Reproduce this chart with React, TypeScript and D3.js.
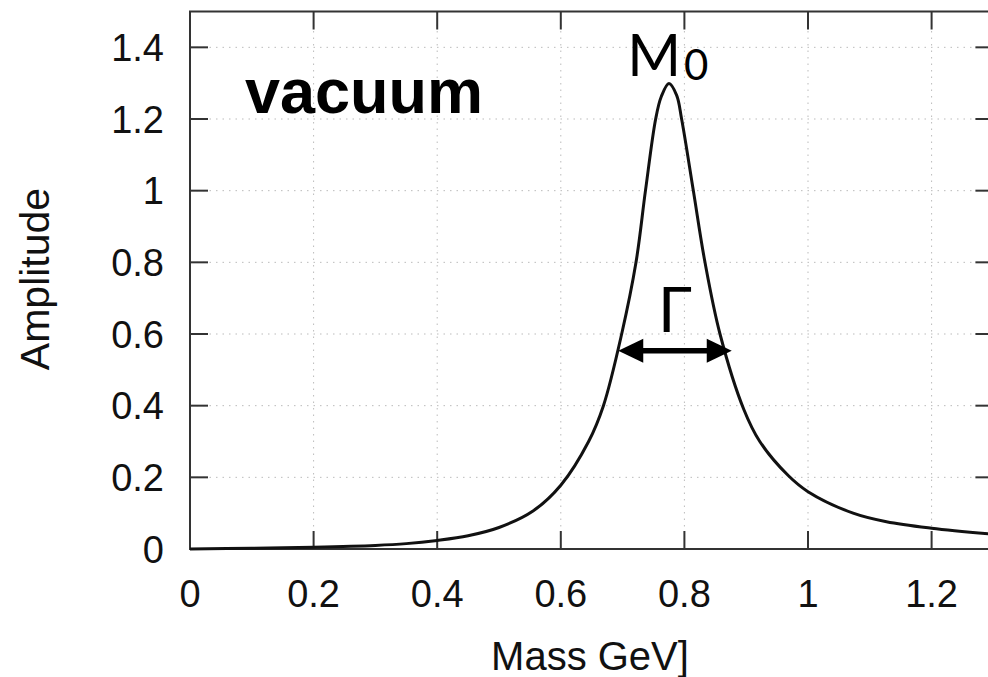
import React from "react";
import * as d3 from "d3";

// Curve (Mass in GeV, Amplitude)
const massValues = [0, 0.1, 0.2, 0.3, 0.35, 0.4, 0.45, 0.5, 0.555, 0.6, 0.645, 0.669, 0.6985, 0.7217, 0.737, 0.7535, 0.7625, 0.775, 0.7875, 0.7955, 0.8145, 0.8333, 0.8576, 0.896, 0.922, 0.968, 1.0, 1.073, 1.127, 1.2, 1.3];
const amplitudeValues = [0, 0.002, 0.005, 0.01, 0.015, 0.024, 0.037, 0.06, 0.106, 0.178, 0.3, 0.4, 0.6, 0.8, 1.0, 1.2, 1.262, 1.299, 1.266, 1.2, 1.0, 0.8, 0.6, 0.39, 0.3, 0.205, 0.16, 0.1, 0.076, 0.058, 0.041];

const xTicks = [0, 0.2, 0.4, 0.6, 0.8, 1, 1.2];
const yTicks = [0, 0.2, 0.4, 0.6, 0.8, 1, 1.2, 1.4];
const xDomain = [0, 1.3];
const yDomain = [0, 1.5];

// Annotations
const peakMass = 0.775;
const widthArrow = { left: 0.693, right: 0.8766, level: 0.553 };
const title = "vacuum";
const xLabel = "Mass GeV]";
const yLabel = "Amplitude";

const W = 988;
const H = 677;
const left = 190;
const right = 993.4;
const top = 11.5;
const bottom = 549;

export default function App() {
  const x = d3.scaleLinear().domain(xDomain).range([left, right]);
  const y = d3.scaleLinear().domain(yDomain).range([bottom, top]);
  const pts = massValues.map((m, i) => [m, amplitudeValues[i]] as [number, number]);
  const line = d3
    .line<[number, number]>()
    .x((d) => x(d[0]))
    .y((d) => y(d[1]))
    .curve(d3.curveCatmullRom.alpha(0.5));
  const tickLen = 18;
  const frame = "#333";
  const font = "'Liberation Sans', Arial, Helvetica, sans-serif";
  const symFont = "Lato, 'Open Sans', sans-serif";

  const ay = y(widthArrow.level);
  const ax1 = x(widthArrow.left);
  const ax2 = x(widthArrow.right);
  const headL = 25;
  const headW = 12;

  return (
    <svg
      width={W}
      height={H}
      style={{ position: "absolute", left: 0, top: 0, background: "#fff" }}
      fontFamily={font}
    >
      <rect x={0} y={0} width={W} height={H} fill="#fff" />
      {/* grid */}
      {xTicks.filter((t) => t > 0).map((t) => (
        <line key={"gx" + t} x1={x(t)} x2={x(t)} y1={top} y2={bottom} stroke="#bbb" strokeWidth={1} strokeDasharray="1.5,5" />
      ))}
      {yTicks.filter((t) => t > 0).map((t) => (
        <line key={"gy" + t} x1={left} x2={right} y1={y(t)} y2={y(t)} stroke="#bbb" strokeWidth={1} strokeDasharray="1.5,5" />
      ))}
      {/* ticks */}
      {xTicks.map((t) => (
        <g key={"tx" + t}>
          <line x1={x(t)} x2={x(t)} y1={bottom} y2={bottom - tickLen} stroke={frame} strokeWidth={2} />
          <line x1={x(t)} x2={x(t)} y1={top} y2={top + tickLen} stroke={frame} strokeWidth={2} />
          <text x={x(t)} y={607} textAnchor="middle" fontSize={38} fill="#111">
            {String(t)}
          </text>
        </g>
      ))}
      {yTicks.map((t) => (
        <g key={"ty" + t}>
          <line x1={left} x2={left + tickLen} y1={y(t)} y2={y(t)} stroke={frame} strokeWidth={2} />
          <line x1={right} x2={right - tickLen} y1={y(t)} y2={y(t)} stroke={frame} strokeWidth={2} />
          <text x={164} y={y(t)} dy="0.36em" textAnchor="end" fontSize={38} fill="#111">
            {String(t)}
          </text>
        </g>
      ))}
      {/* frame */}
      <rect x={left} y={top} width={right - left} height={bottom - top} fill="none" stroke={frame} strokeWidth={2} />
      {/* curve */}
      <path d={line(pts) || ""} fill="none" stroke="#111" strokeWidth={3} strokeLinejoin="round" />
      {/* width arrow */}
      <line x1={ax1 + headL - 2} x2={ax2 - headL + 2} y1={ay} y2={ay} stroke="#000" strokeWidth={5.5} />
      <path d={`M${ax1},${ay} L${ax1 + headL},${ay - headW} L${ax1 + headL},${ay + headW} Z`} fill="#000" />
      <path d={`M${ax2},${ay} L${ax2 - headL},${ay - headW} L${ax2 - headL},${ay + headW} Z`} fill="#000" />
      <text x={x(peakMass) + 6} y={332.3} textAnchor="middle" fontSize={62} fontFamily={symFont} fill="#000">
        Γ
      </text>
      {/* M0 */}
      <text x={681} y={76} textAnchor="end" fontSize={58} fontFamily={symFont} fill="#000">
        M
      </text>
      <text x={684} y={80} fontSize={42} fontFamily={symFont} fill="#000">
        0
      </text>
      {/* title */}
      <text x={245} y={113} fontSize={63} fontWeight="bold" fill="#000">
        {title}
      </text>
      {/* axis labels */}
      <text x={590} y={670} textAnchor="middle" fontSize={40} fill="#111">
        {xLabel}
      </text>
      <text transform={`translate(49,279) rotate(-90)`} textAnchor="middle" fontSize={41} fill="#111">
        {yLabel}
      </text>
    </svg>
  );
}
